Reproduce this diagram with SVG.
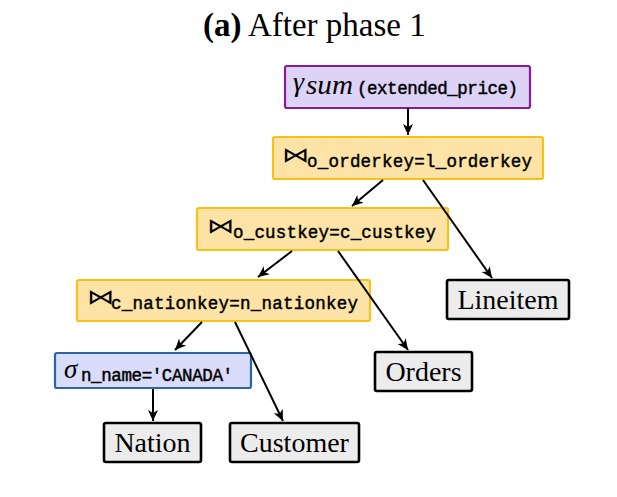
<svg xmlns="http://www.w3.org/2000/svg" width="617" height="497" viewBox="0 0 617 497">
<defs>
<marker id="ah" markerWidth="14" markerHeight="12" refX="11" refY="6" orient="auto" markerUnits="userSpaceOnUse">
<path d="M0,1 L11,6 L0,11 L3,6 Z" fill="#000"/>
</marker>
<style>
.title{font-family:"Liberation Serif",serif;font-size:33px;fill:#000}
.op{stroke-width:2.2}
.agg{fill:#dcd3f7;stroke:#8a1a9a}
.join{fill:#fde4a6;stroke:#f6c21a}
.sel{fill:#d9dcf8;stroke:#2a66a6}
.leaf{fill:#ececec;stroke:#000;stroke-width:2.6}
.sym{font-family:"DejaVu Sans",sans-serif;font-weight:200;font-size:21px;fill:#000}
.sub{font-family:"Liberation Mono",monospace;font-size:17.5px;fill:#000;stroke:#000;stroke-width:0.45}
.it{font-family:"Liberation Serif",serif;font-style:italic;fill:#000}
.lt{font-family:"Liberation Serif",serif;font-size:28px;fill:#000;text-anchor:middle}
.edge{stroke:#000;stroke-width:2;fill:none;marker-end:url(#ah)}
</style>
</defs>
<text class="title" x="203" y="36"><tspan font-weight="bold">(a)</tspan> After phase 1</text>
<g id="agg">
<rect class="agg op" x="285" y="66" width="245" height="42" rx="2"/>
<text class="it" x="293" y="91" font-size="28">γ</text>
<text class="it" x="306" y="94" font-size="28" textLength="47" lengthAdjust="spacingAndGlyphs">sum</text>
<text class="sub" x="357" y="94" font-size="16.5" textLength="161">(extended_price)</text>
</g>
<g id="join1">
<rect class="join op" x="273" y="137" width="270" height="42" rx="2"/>
<text class="sym" x="282" y="162" transform="translate(282 0) scale(1.3 1) translate(-282 0)">⋈</text>
<text class="sub" x="307" y="167" textLength="225">o_orderkey=l_orderkey</text>
</g>
<g id="join2">
<rect class="join op" x="197" y="208" width="251" height="42" rx="2"/>
<text class="sym" x="207" y="233" transform="translate(207 0) scale(1.3 1) translate(-207 0)">⋈</text>
<text class="sub" x="233" y="238" textLength="203">o_custkey=c_custkey</text>
</g>
<g id="join3">
<rect class="join op" x="77" y="280" width="293" height="41" rx="2"/>
<text class="sym" x="87" y="304" transform="translate(87 0) scale(1.3 1) translate(-87 0)">⋈</text>
<text class="sub" x="111" y="309" textLength="247">c_nationkey=n_nationkey</text>
</g>
<g id="select">
<rect class="sel op" x="55" y="353" width="196" height="35" rx="2"/>
<text x="64" y="378"><tspan class="it" font-size="27">σ</tspan></text>
<text class="sub" x="81" y="381" font-size="16.5" textLength="152">n_name=′CANADA′</text>
</g>
<g id="lineitem">
<rect class="leaf" x="447" y="280" width="122" height="39" rx="2"/>
<text class="lt" x="508" y="309">Lineitem</text>
</g>
<g id="orders">
<rect class="leaf" x="375" y="352" width="97" height="39" rx="2"/>
<text class="lt" x="423.5" y="381">Orders</text>
</g>
<g id="nation">
<rect class="leaf" x="104" y="423" width="97" height="39" rx="2"/>
<text class="lt" x="152.5" y="452">Nation</text>
</g>
<g id="customer">
<rect class="leaf" x="230" y="423" width="129" height="39" rx="2"/>
<text class="lt" x="294.5" y="452">Customer</text>
</g>
<g id="connectors">
<line class="edge" x1="408" y1="108" x2="408" y2="135"/>
<line class="edge" x1="383" y1="180" x2="352" y2="206"/>
<line class="edge" x1="423" y1="180" x2="492" y2="278"/>
<line class="edge" x1="292" y1="251" x2="258" y2="277"/>
<line class="edge" x1="338" y1="251" x2="408" y2="350"/>
<line class="edge" x1="202" y1="322" x2="175" y2="350"/>
<line class="edge" x1="235" y1="322" x2="283" y2="421"/>
<line class="edge" x1="153" y1="389" x2="153" y2="421"/>
</g>
</svg>
